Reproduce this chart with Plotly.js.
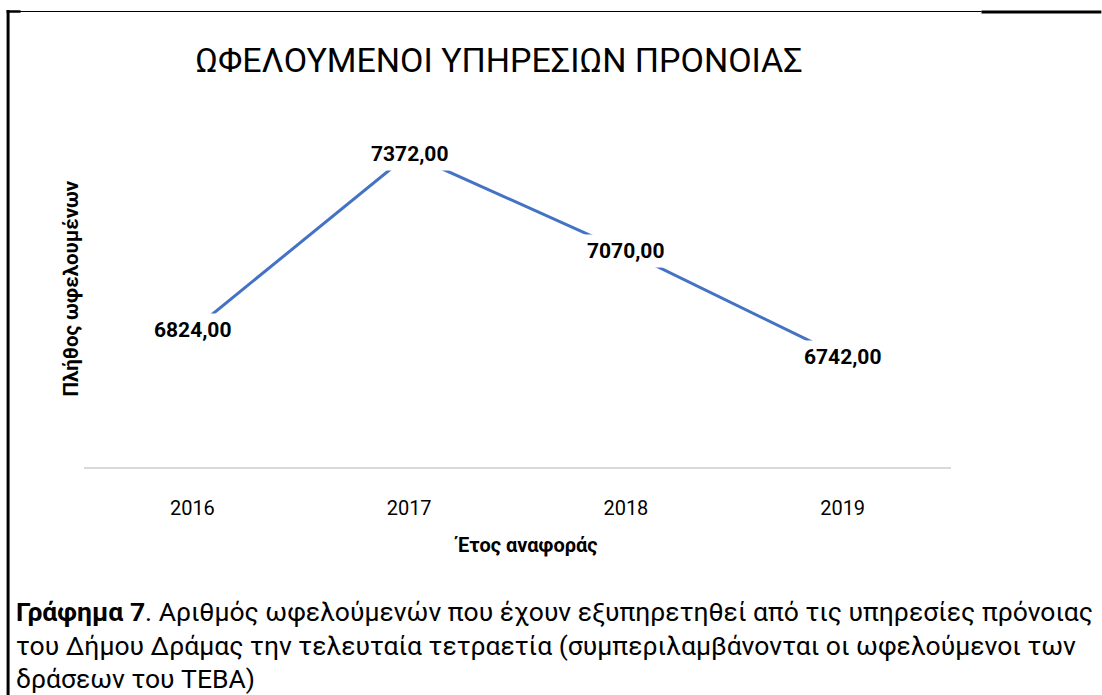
<!DOCTYPE html>
<html><head><meta charset="utf-8">
<script src="https://cdn.plot.ly/plotly-3.0.1.min.js"></script>
<style>html,body{margin:0;padding:0;background:#fff}#chart{width:1102px;height:695px}</style>
</head><body><div id="chart"></div>
<script>
const years = ['2016', '2017', '2018', '2019'];
const beneficiaries = [6824, 7372, 7070, 6742];
const valueLabels = ['6824,00', '7372,00', '7070,00', '6742,00'];
const chartTitle = 'ΩΦΕΛΟΥΜΕΝΟΙ ΥΠΗΡΕΣΙΩΝ ΠΡΟΝΟΙΑΣ';
const xTitle = 'Έτος αναφοράς';
const yTitle = 'Πλήθος ωφελουμένων';
const captionLines = [
  '<b>Γράφημα 7</b>. Αριθμός ωφελούμενών που έχουν εξυπηρετηθεί από τις υπηρεσίες πρόνοιας',
  'του Δήμου Δράμας την τελευταία τετραετία (συμπεριλαμβάνονται οι ωφελούμενοι των',
  'δράσεων του ΤΕΒΑ)'
];

const FONT = 'Roboto, "Open Sans", sans-serif';
const W = 1102, H = 695, L = 83.5, R = 951.5, T = 145, B = 467;
const px = x => (x - L) / (R - L);
const py = y => (B - y) / (B - T);

const trace = {
  type: 'scatter', mode: 'lines',
  x: years, y: beneficiaries,
  line: {color: '#4472C4', width: 3},
  hoverinfo: 'x+y'
};

const annotations = [];
years.forEach((yr, i) => {
  annotations.push({
    xref: 'x', yref: 'y', x: i, y: beneficiaries[i],
    xanchor: 'center', yanchor: 'middle',
    text: '<b>' + valueLabels[i] + '</b>', showarrow: false,
    bgcolor: '#ffffff', borderpad: 4,
    font: {family: FONT, size: 21, color: '#000'}
  });
});
annotations.push({
  xref: 'paper', yref: 'paper', x: px(70), y: py(289), textangle: -90,
  xanchor: 'center', yanchor: 'middle',
  text: '<b>' + yTitle + '</b>', showarrow: false,
  font: {family: FONT, size: 20.5, color: '#000'}
});
annotations.push({
  xref: 'paper', yref: 'paper', x: px(526), y: py(545),
  xanchor: 'center', yanchor: 'middle',
  text: '<b>' + xTitle + '</b>', showarrow: false,
  font: {family: FONT, size: 20, color: '#000'}
});
captionLines.forEach((t, i) => {
  annotations.push({
    xref: 'paper', yref: 'paper', x: px(13), y: py(612 + i * 33),
    xanchor: 'left', yanchor: 'middle',
    text: t, showarrow: false,
    font: {family: FONT, size: 26.5, color: '#000'}
  });
});

const shapes = [
  {type: 'line', xref: 'paper', yref: 'paper', x0: px(7.5), x1: px(7.5), y0: py(10), y1: py(700), line: {color: '#000', width: 3}},
  {type: 'line', xref: 'paper', yref: 'paper', x0: px(7), x1: px(982), y0: py(11.5), y1: py(11.5), line: {color: '#000', width: 1}},
  {type: 'line', xref: 'paper', yref: 'paper', x0: px(6), x1: px(20), y0: py(11.5), y1: py(11.5), line: {color: '#000', width: 2.5}},
  {type: 'line', xref: 'paper', yref: 'paper', x0: px(982), x1: px(1102), y0: py(12), y1: py(12), line: {color: '#000', width: 3}}
];

const layout = {
  width: W, height: H,
  margin: {l: L, r: W - R, t: T, b: H - B, pad: 0},
  paper_bgcolor: '#fff', plot_bgcolor: '#fff',
  showlegend: false,
  title: {text: chartTitle, x: px(499), xref: 'paper', xanchor: 'center', y: 1 - 60 / H, yref: 'container', yanchor: 'middle',
          font: {family: FONT, size: 34, color: '#000'}},
  xaxis: {type: 'category', range: [-0.5, 3.5], showgrid: false, zeroline: false,
          showline: true, linecolor: '#D9D9D9', linewidth: 1.5,
          ticks: 'outside', ticklen: 22, tickcolor: 'rgba(0,0,0,0)',
          tickfont: {family: FONT, size: 20, color: '#000'}},
  yaxis: {range: [6400, 7400], showgrid: false, zeroline: false, showline: false, showticklabels: false, ticks: ''},
  annotations: annotations,
  shapes: shapes
};

Plotly.newPlot('chart', [trace], layout, {displayModeBar: false, responsive: false});
</script>
</body></html>
